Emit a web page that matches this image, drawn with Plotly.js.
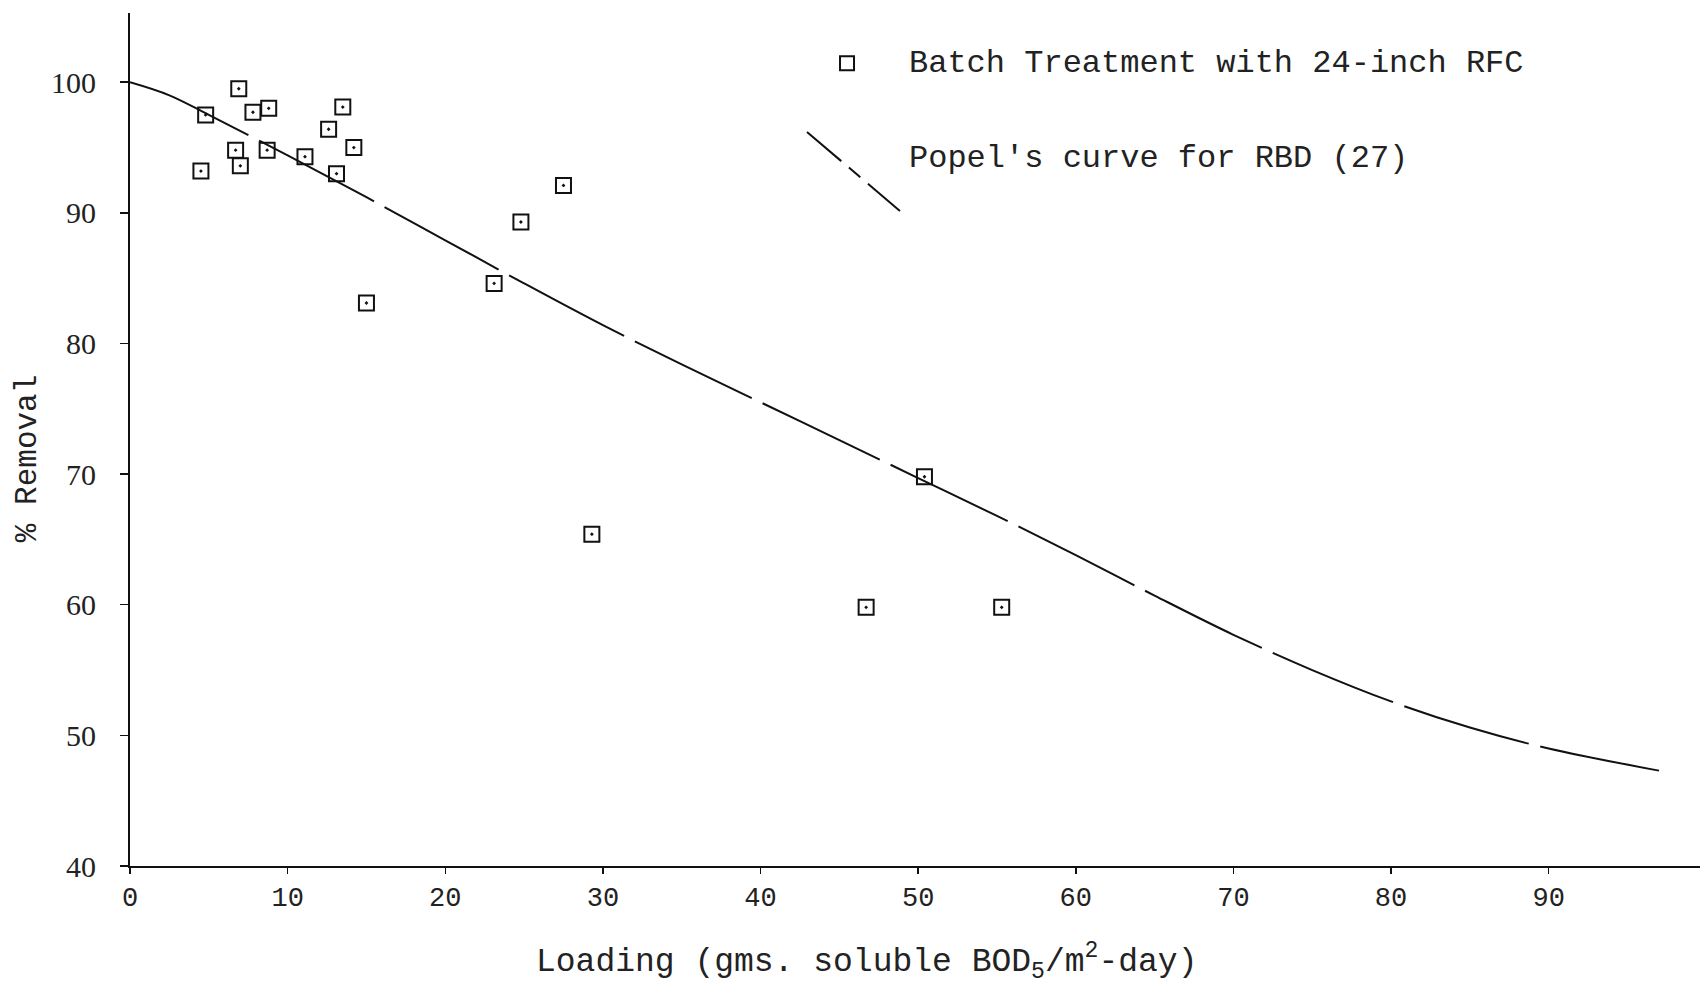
<!DOCTYPE html>
<html>
<head>
<meta charset="utf-8">
<script src="https://cdn.plot.ly/plotly-3.0.1.min.js"></script>
<style>html,body{margin:0;padding:0;background:#fff;}#chart{width:1703px;height:991px;}</style>
</head>
<body>
<div id="chart"></div>
<script>
// Batch treatment data points (loading, % removal)
const batchLoading = [4.5, 4.8, 6.9, 6.7, 7.0, 7.8, 8.8, 8.7, 11.1, 12.6, 13.1, 13.5, 14.2, 15.0, 23.1, 24.8, 27.5, 29.3, 50.4, 46.7, 55.3];
const batchRemoval = [93.2, 97.5, 99.5, 94.8, 93.6, 97.7, 98.0, 94.8, 94.3, 96.4, 93.0, 98.1, 95.0, 83.1, 84.6, 89.3, 92.1, 65.4, 69.8, 59.8, 59.8];

// Popel's curve for RBD (27)
const popelLoading = [0, 2.5, 5, 10, 15, 20, 25, 30, 35, 40, 45, 50, 55, 60, 65, 70, 75, 80, 85, 90, 97];
const popelRemoval = [100, 99.0, 97.5, 94.4, 91.2, 87.9, 84.6, 81.4, 78.4, 75.5, 72.6, 69.7, 66.8, 63.8, 60.7, 57.7, 55.0, 52.6, 50.6, 49.0, 47.3];

const xTickVals = [0, 10, 20, 30, 40, 50, 60, 70, 80, 90];
const yTickVals = [40, 50, 60, 70, 80, 90, 100];

const legendBatch = "Batch Treatment with 24-inch RFC";
const legendPopel = "Popel's curve for RBD (27)";
const xTitle = "Loading (gms. soluble BOD<sub>5</sub>/m<sup>2</sup>-day)";
const yTitle = "% Removal";

const mono = "Liberation Mono, DejaVu Sans Mono, monospace";
const serif = "Liberation Serif, DejaVu Serif, serif";

const traces = [
  {
    x: popelLoading, y: popelRemoval, type: 'scatter', mode: 'lines',
    line: {color: '#111', width: 2, shape: 'spline', smoothing: 1, dash: '130px,12px'},
    hoverinfo: 'skip', showlegend: false
  },
  {
    x: batchLoading, y: batchRemoval, type: 'scatter', mode: 'markers',
    marker: {symbol: 'square-open-dot', size: 15, color: '#111', line: {color: '#111', width: 2}},
    showlegend: false
  }
];

const layout = {
  width: 1703, height: 991,
  margin: {l: 130, r: 3, t: 13, b: 125},
  paper_bgcolor: '#fff', plot_bgcolor: '#fff',
  showlegend: false,
  xaxis: {
    range: [0, 99.6], tickvals: xTickVals, ticktext: xTickVals.map(String),
    showgrid: false, zeroline: false, showline: true, linecolor: '#111', linewidth: 2,
    ticks: 'outside', ticklen: 6, tickwidth: 1.5, tickcolor: '#111',
    ticklabelstandoff: 0,
    tickfont: {family: mono, size: 27, color: '#222'}
  },
  yaxis: {
    range: [40, 105.3], tickvals: yTickVals, ticktext: yTickVals.map(String),
    showgrid: false, zeroline: false, showline: true, linecolor: '#111', linewidth: 2,
    ticks: 'outside', ticklen: 8, tickwidth: 1.5, tickcolor: '#111',
    ticklabelstandoff: 18,
    tickfont: {family: serif, size: 30, color: '#222'}
  },
  annotations: [
    {xref: 'paper', yref: 'paper', x: 0.495, y: 0.941, xanchor: 'left', yanchor: 'middle',
     text: legendBatch, showarrow: false, font: {family: mono, size: 32, color: '#222'}},
    {xref: 'paper', yref: 'paper', x: 0.495, y: 0.829, xanchor: 'left', yanchor: 'middle',
     text: legendPopel, showarrow: false, font: {family: mono, size: 32, color: '#222'}},
    {xref: 'paper', yref: 'paper', x: 0.4689, y: -0.1125, xanchor: 'center', yanchor: 'middle',
     text: xTitle, showarrow: false, font: {family: mono, size: 33, color: '#222'}},
    {xref: 'paper', yref: 'paper', x: -0.0656, y: 0.477, xanchor: 'center', yanchor: 'middle',
     text: yTitle, textangle: -90, showarrow: false, font: {family: mono, size: 31, color: '#222'}}
  ],
  shapes: [
    {type: 'rect', xref: 'paper', yref: 'paper', xsizemode: 'pixel', ysizemode: 'pixel',
     xanchor: 0.4567, yanchor: 0.941, x0: -7, x1: 7, y0: -7, y1: 7,
     line: {color: '#111', width: 2}, fillcolor: 'rgba(0,0,0,0)'},
    {type: 'line', xref: 'paper', yref: 'paper', x0: 0.4312, y0: 0.8605, x1: 0.4904, y1: 0.7679,
     line: {color: '#111', width: 2, dash: '45px,10px,15px,10px'}}
  ]
};

Plotly.newPlot('chart', traces, layout, {displayModeBar: false, staticPlot: true});
</script>
</body>
</html>
